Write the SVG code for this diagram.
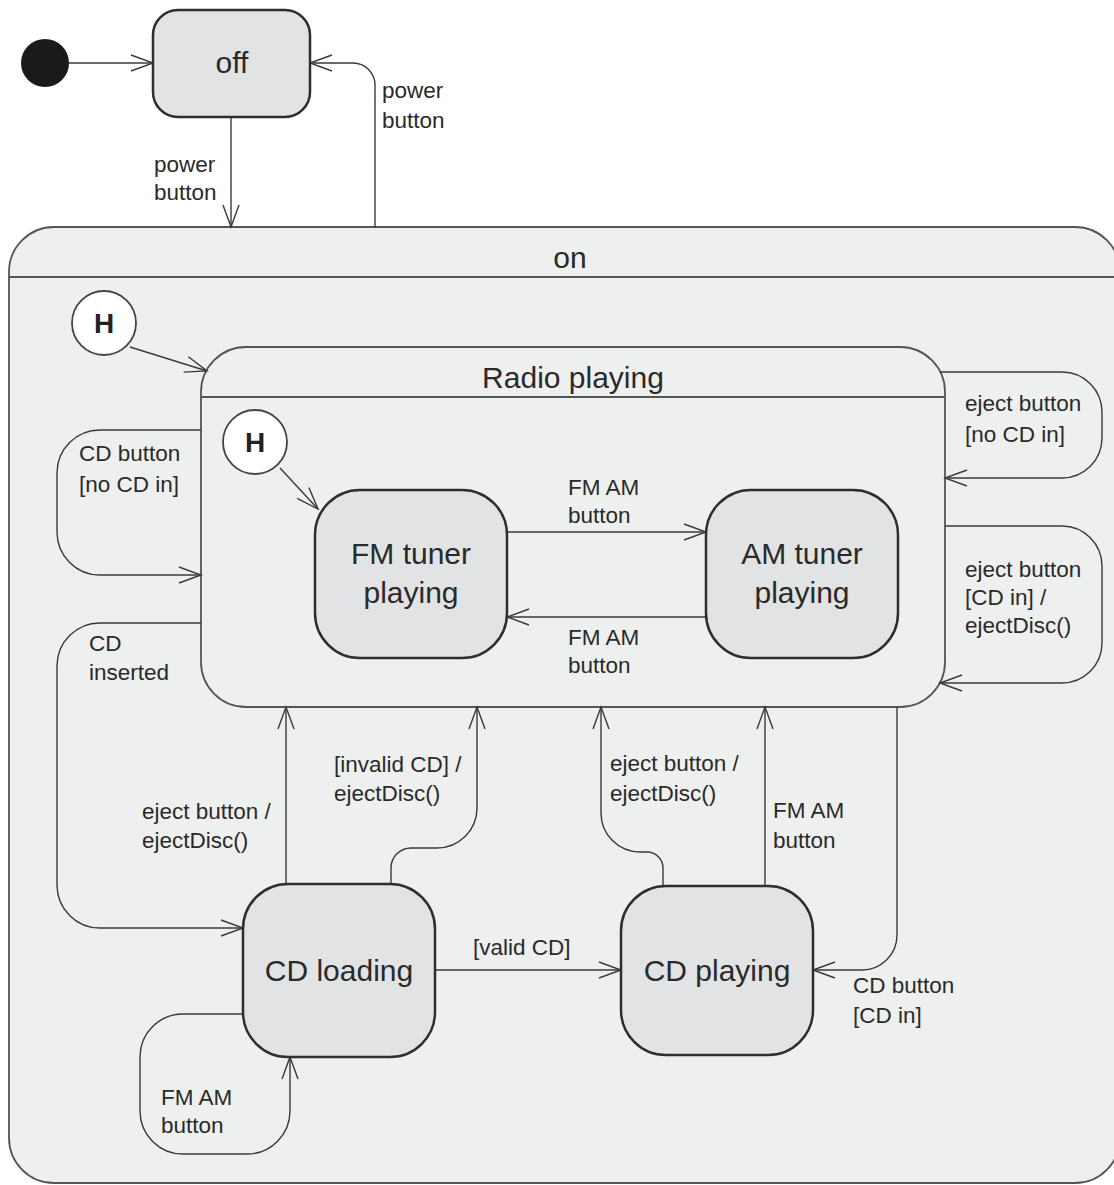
<svg xmlns="http://www.w3.org/2000/svg" width="1114" height="1185" viewBox="0 0 1114 1185">
<style>
.cont{fill:#eef0ef;stroke:#555;stroke-width:1.8}
.state{fill:#e2e3e5;stroke:#2e2e2e;stroke-width:2.5}
.hist{fill:#fff;stroke:#444;stroke-width:1.8}
.conn path{fill:none;stroke:#3a3a3a;stroke-width:1.4;marker-end:url(#arr)}
.lbl{font-family:"Liberation Sans",Arial,sans-serif;font-size:22.5px;fill:#2a2a2a}
.st{font-family:"Liberation Sans",Arial,sans-serif;font-size:30px;fill:#2a2a2a;text-anchor:middle}
.h{font-family:"Liberation Sans",Arial,sans-serif;font-size:28px;font-weight:bold;fill:#222;text-anchor:middle}
</style>
<defs>
<marker id="arr" markerWidth="26" markerHeight="20" refX="23" refY="9" orient="auto" markerUnits="userSpaceOnUse">
<path d="M1,1 L23,9 L1,17" fill="none" stroke="#3a3a3a" stroke-width="1.4"/>
</marker>
</defs>
<rect width="1114" height="1185" fill="#fff"/>
<g id="on">
<rect class="cont" x="9" y="227" width="1111" height="956" rx="45"/>
<line x1="9" y1="277" x2="1120" y2="277" stroke="#555" stroke-width="1.8"/>
<text class="st" x="570" y="268">on</text>
</g>
<g id="radio-playing">
<rect class="cont" x="201" y="347" width="744" height="360" rx="45"/>
<line x1="201" y1="397" x2="945" y2="397" stroke="#555" stroke-width="1.8"/>
<text class="st" x="573" y="388">Radio playing</text>
</g>
<g class="conn" id="connectors">
<path d="M69,63 H153"/>
<path d="M231,117 V227"/>
<path d="M375,227 V85 A22,22 0 0 0 353,63 H310"/>
<path d="M130,347 L207,371"/>
<path d="M280,468 L318,509"/>
<path d="M507,532 H706"/>
<path d="M706,617 H507"/>
<path d="M201,430 H100 A43,43 0 0 0 57,473 V532 A43,43 0 0 0 100,575 H201"/>
<path d="M201,623 H100 A43,43 0 0 0 57,666 V885 A43,43 0 0 0 100,928 H243"/>
<path d="M286,884 V707"/>
<path d="M391,884 V868 A20,20 0 0 1 411,848 H437 A40,40 0 0 0 477,808 V707"/>
<path d="M435,970 H621"/>
<path d="M663,886 V868 A16,16 0 0 0 647,852 H640 A39,39 0 0 1 601,813 V707"/>
<path d="M765,886 V707"/>
<path d="M897,707 V935 A35,35 0 0 1 862,970 H813"/>
<path d="M243,1014 H183 A43,43 0 0 0 140,1057 V1111 A43,43 0 0 0 183,1154 H247 A43,43 0 0 0 290,1111 V1057"/>
<path d="M940,372 H1062 A40,40 0 0 1 1102,412 V438 A40,40 0 0 1 1062,478 H945"/>
<path d="M945,526 H1062 A40,40 0 0 1 1102,566 V643 A40,40 0 0 1 1062,683 H940"/>
</g>
<g id="initial"><circle cx="45" cy="63" r="24" fill="#1a1a1a"/></g>
<g id="off">
<rect class="state" x="153" y="10" width="157" height="107" rx="25"/>
<text class="st" x="232" y="73">off</text>
</g>
<g id="history-on">
<circle class="hist" cx="104" cy="323" r="32"/>
<text class="h" x="104" y="333">H</text>
</g>
<g id="history-radio">
<circle class="hist" cx="255" cy="442" r="32"/>
<text class="h" x="255" y="452">H</text>
</g>
<g id="fm-tuner">
<rect class="state" x="315" y="490" width="192" height="168" rx="45"/>
<text class="st" x="411" y="564">FM tuner</text>
<text class="st" x="411" y="603">playing</text>
</g>
<g id="am-tuner">
<rect class="state" x="706" y="490" width="192" height="168" rx="45"/>
<text class="st" x="802" y="564">AM tuner</text>
<text class="st" x="802" y="603">playing</text>
</g>
<g id="cd-loading">
<rect class="state" x="243" y="884" width="192" height="173" rx="45"/>
<text class="st" x="339" y="981">CD loading</text>
</g>
<g id="cd-playing">
<rect class="state" x="621" y="886" width="192" height="169" rx="45"/>
<text class="st" x="717" y="981">CD playing</text>
</g>
<g id="labels">
<text class="lbl" x="154" y="172">power</text>
<text class="lbl" x="154" y="200">button</text>
<text class="lbl" x="382" y="98">power</text>
<text class="lbl" x="382" y="128">button</text>
<text class="lbl" x="79" y="461">CD button</text>
<text class="lbl" x="79" y="492">[no CD in]</text>
<text class="lbl" x="89" y="651">CD</text>
<text class="lbl" x="89" y="680">inserted</text>
<text class="lbl" x="568" y="495">FM AM</text>
<text class="lbl" x="568" y="523">button</text>
<text class="lbl" x="568" y="645">FM AM</text>
<text class="lbl" x="568" y="673">button</text>
<text class="lbl" x="965" y="411">eject button</text>
<text class="lbl" x="965" y="442">[no CD in]</text>
<text class="lbl" x="965" y="577">eject button</text>
<text class="lbl" x="965" y="605">[CD in] /</text>
<text class="lbl" x="965" y="633">ejectDisc()</text>
<text class="lbl" x="142" y="819">eject button /</text>
<text class="lbl" x="142" y="848">ejectDisc()</text>
<text class="lbl" x="334" y="772">[invalid CD] /</text>
<text class="lbl" x="334" y="801">ejectDisc()</text>
<text class="lbl" x="610" y="771">eject button /</text>
<text class="lbl" x="610" y="801">ejectDisc()</text>
<text class="lbl" x="773" y="818">FM AM</text>
<text class="lbl" x="773" y="848">button</text>
<text class="lbl" x="473" y="955">[valid CD]</text>
<text class="lbl" x="853" y="993">CD button</text>
<text class="lbl" x="853" y="1023">[CD in]</text>
<text class="lbl" x="161" y="1105">FM AM</text>
<text class="lbl" x="161" y="1133">button</text>
</g>
</svg>
